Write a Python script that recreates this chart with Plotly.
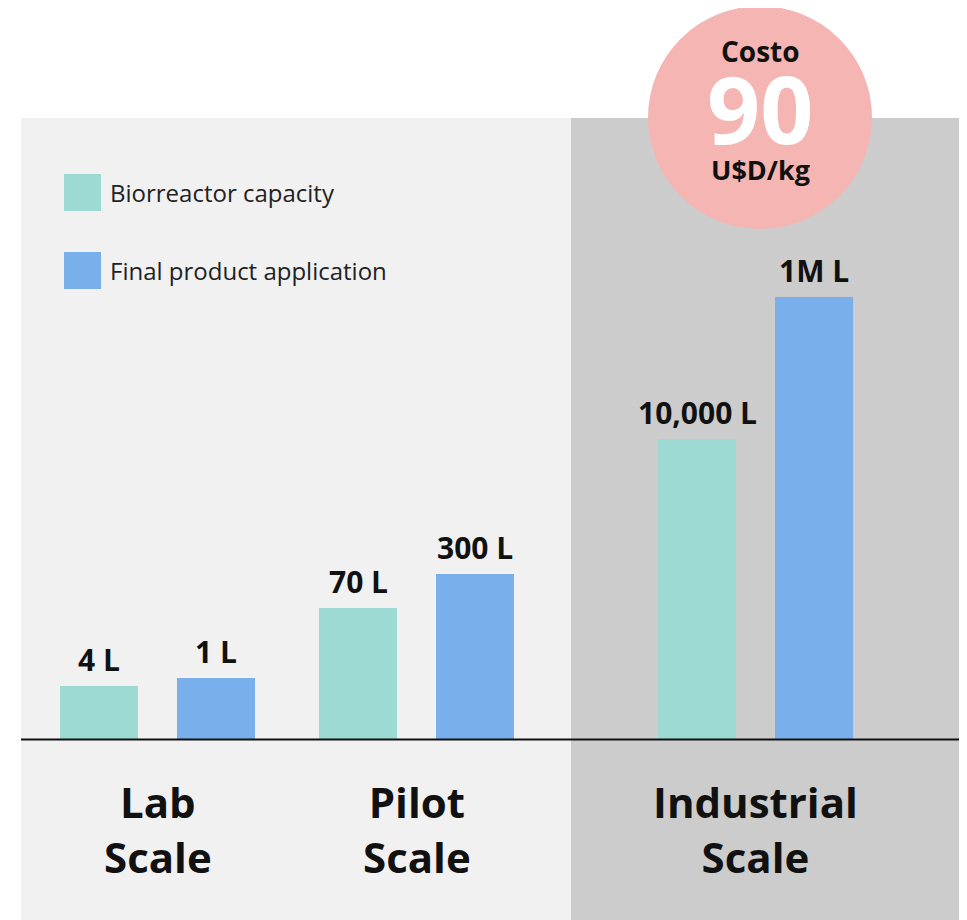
import plotly.graph_objects as go

# ---- data ----
stages = ["Lab Scale", "Pilot Scale", "Industrial Scale"]
stage_titles = ["Lab<br>Scale", "Pilot<br>Scale", "Industrial<br>Scale"]
series_names = ["Biorreactor capacity", "Final product application"]
bio_height = [53, 131, 300]        # illustrative bar heights
final_height = [61, 165, 442]
bio_labels = ["4 L", "70 L", "10,000 L"]
final_labels = ["1 L", "300 L", "1M L"]
cost_title = "Costo"
cost_value = "90"
cost_unit = "U$D/kg"

# ---- style ----
OFF = 8                      # page body margin
W, H = 967 - OFF, 920 - OFF
FONT = "'Open Sans', Lato, sans-serif"
C_BIO = "#9ddad3"
C_FIN = "#79afea"
C_LIGHT = "#f1f1f1"
C_DARK = "#cccccc"
C_CIRCLE = "#f4b5b3"
BASE = 739  # px baseline (screen)
BOLD = 700


def px(x):
    return (x - OFF) / W


def py(y):
    return 1 - (y - OFF) / H


fig = go.Figure()

left_idx = [0, 1]
right_idx = [2]
for idxs, xa, ya in [(left_idx, "x", "y"), (right_idx, "x2", "y2")]:
    fig.add_trace(go.Bar(
        x=[stages[i] for i in idxs], y=[bio_height[i] for i in idxs],
        name=series_names[0], marker=dict(color=C_BIO, line=dict(width=0)),
        xaxis=xa, yaxis=ya, showlegend=False, hoverinfo="skip"))
    fig.add_trace(go.Bar(
        x=[stages[i] for i in idxs], y=[final_height[i] for i in idxs],
        name=series_names[1], marker=dict(color=C_FIN, line=dict(width=0)),
        xaxis=xa, yaxis=ya, showlegend=False, hoverinfo="skip"))

lab_font = dict(family=FONT, size=30, color="#111", weight=BOLD)
annotations = []
for i, st in enumerate(stages):
    xr = "x" if i < 2 else "x2"
    yr = "y" if i < 2 else "y2"
    annotations.append(dict(x=st, xref=xr, y=bio_height[i], yref=yr, xshift=-58.5,
                            yshift=4, xanchor="center", yanchor="bottom", showarrow=False,
                            text=bio_labels[i], font=lab_font))
    annotations.append(dict(x=st, xref=xr, y=final_height[i], yref=yr, xshift=58.5,
                            yshift=4, xanchor="center", yanchor="bottom", showarrow=False,
                            text=final_labels[i], font=lab_font))
    annotations.append(dict(x=st, xref=xr, y=py(829), yref="paper",
                            xanchor="center", yanchor="middle", showarrow=False,
                            text=stage_titles[i],
                            font=dict(family=FONT, size=42, color="#111", weight=BOLD)))

# legend
for name, yc in [(series_names[0], 192.5), (series_names[1], 270.5)]:
    annotations.append(dict(x=px(108), y=py(yc), xref="paper", yref="paper",
                            xanchor="left", yanchor="middle", showarrow=False,
                            text=name, font=dict(family=FONT, size=24, color="#222")))

# cost circle text
annotations += [
    dict(x=px(760), y=py(51), xref="paper", yref="paper", showarrow=False,
         xanchor="center", yanchor="middle",
         text=cost_title, font=dict(family=FONT, size=28, color="#111", weight=BOLD)),
    dict(x=px(760), y=py(108), xref="paper", yref="paper", showarrow=False,
         xanchor="center", yanchor="middle",
         text=cost_value, font=dict(family=FONT, size=93, color="white", weight=BOLD)),
    dict(x=px(760), y=py(170), xref="paper", yref="paper", showarrow=False,
         xanchor="center", yanchor="middle",
         text=cost_unit, font=dict(family=FONT, size=27, color="#111", weight=BOLD)),
]

shapes = [
    dict(type="rect", xref="paper", yref="paper", x0=px(21), x1=px(571), y0=0, y1=py(118),
         fillcolor=C_LIGHT, line=dict(width=0), layer="below"),
    dict(type="rect", xref="paper", yref="paper", x0=px(571), x1=px(960), y0=0, y1=py(118),
         fillcolor=C_DARK, line=dict(width=0), layer="below"),
    dict(type="line", xref="paper", yref="paper", x0=px(21), x1=px(960), y0=py(BASE + 0.5), y1=py(BASE + 0.5),
         line=dict(color="#111", width=2), layer="above"),
    dict(type="circle", xref="paper", yref="paper", x0=px(648), x1=px(872), y0=py(229), y1=py(6),
         fillcolor=C_CIRCLE, line=dict(width=0), layer="above"),
    dict(type="rect", xref="paper", yref="paper", x0=px(64), x1=px(101), y0=py(211), y1=py(174),
         fillcolor=C_BIO, line=dict(width=0), layer="above"),
    dict(type="rect", xref="paper", yref="paper", x0=px(64), x1=px(101), y0=py(289), y1=py(252),
         fillcolor=C_FIN, line=dict(width=0), layer="above"),
]

axis_off = dict(visible=False, showgrid=False, zeroline=False, fixedrange=True)
fig.update_layout(
    width=W, height=H, margin=dict(l=0, r=0, t=0, b=0),
    paper_bgcolor="white", plot_bgcolor="rgba(0,0,0,0)",
    barmode="group", bargap=25 / 259, bargroupgap=1 - 78 / 117,
    showlegend=False,
    xaxis=dict(domain=[px(28), px(546)], type="category", categoryarray=stages[:2],
               range=[-0.5, 1.5], **axis_off),
    xaxis2=dict(domain=[px(626), px(885)], type="category", categoryarray=stages[2:],
                range=[-0.5, 0.5], anchor="y2", **axis_off),
    yaxis=dict(domain=[py(BASE), 1], range=[0, BASE - OFF], **axis_off),
    yaxis2=dict(domain=[py(BASE), 1], range=[0, BASE - OFF], anchor="x2", **axis_off),
    shapes=shapes, annotations=annotations,
    font=dict(family=FONT),
)

fig.write_html("out.html")
